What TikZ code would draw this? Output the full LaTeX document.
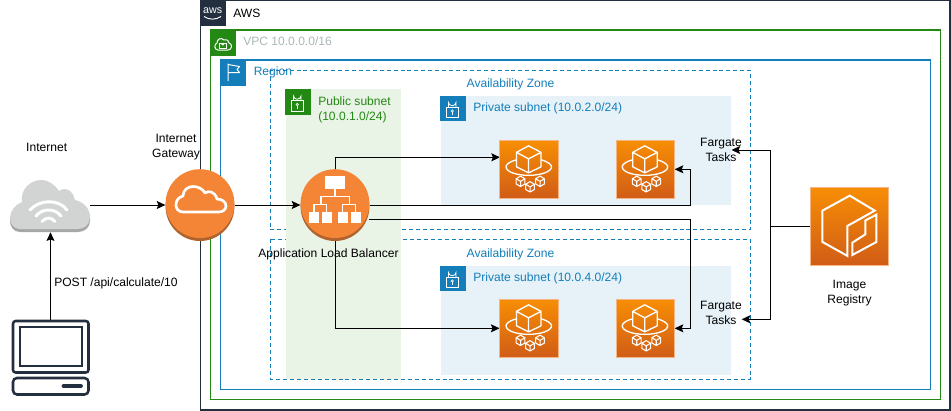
\documentclass[tikz,border=0pt]{standalone}
\usepackage{fontspec}
\setmainfont{Liberation Sans}
\usetikzlibrary{arrows.meta}
\definecolor{awsdark}{HTML}{232F3E}
\definecolor{vpcgreen}{HTML}{248814}
\definecolor{regblue}{HTML}{147EBA}
\definecolor{pubfill}{HTML}{E9F3E6}
\definecolor{privfill}{HTML}{E6F2F8}
\definecolor{vpcgray}{HTML}{AAB7B8}
\definecolor{orangetop}{HTML}{F78E04}
\definecolor{orangebot}{HTML}{D05C17}
\definecolor{orangeedge}{HTML}{F5B585}
\definecolor{circorange}{HTML}{F58536}
\definecolor{circshadow}{HTML}{B0642D}
\definecolor{cloudgray}{HTML}{D2D3D3}
\definecolor{cloudshadow}{HTML}{A5A6A6}
\newcommand{\fgcube}[2]{%
  \draw[white,line width=.8pt,line join=round,shift={(#1,#2)}]
    (0,-5.2) -- (4.4,-2.6) -- (4.4,2.6) -- (0,5.2) -- (-4.4,2.6) -- (-4.4,-2.6) -- cycle
    (-4.4,-2.6) -- (0,0) -- (4.4,-2.6) (0,0) -- (0,5.2);}
\tikzset{
  txt/.style={inner sep=0pt,font=\fontsize{9.05}{11.25}\selectfont,align=center},
  txtl/.style={txt,anchor=west,align=left},
  frame/.style={draw=#1,line width=.85pt,fill=none},
  zone/.style={draw=regblue,line width=.75pt,dash pattern=on 3pt off 2.2pt},
  conn/.style={draw=black,line width=.75pt},
  arr/.style={conn,-{Stealth[length=6.5pt,width=6pt,inset=1.2pt]}},
  orangebox/.style={draw=orangeedge,line width=.6pt,top color=orangetop,bottom color=orangebot,inner sep=0pt,minimum size=#1},
  hit/.style={inner sep=0pt,minimum width=#1,minimum height=54pt},
  hdr/.style={fill=#1,draw=none},
  lockicon/.pic={
    \draw[white,line width=.6pt] (6,11.5) rectangle (18.5,22);
    \draw[white,line width=.6pt] (8.5,11.5) -- (8.5,7) arc[start angle=180,end angle=0,x radius=3.75,y radius=3.2] -- (16,11.5);
    \draw[white,line width=.5pt] (12.2,15.5) circle[radius=1.2];
    \draw[white,line width=.5pt] (12.2,16.7) -- (12.2,19.5);
  },
  fargateicon/.pic={
    \draw[white,line width=1pt,line join=round] (29,6) -- (41.5,12.5) -- (41.5,27) -- (29,33) -- (17,27) -- (17,12.5) -- cycle
      (17,12.5) -- (29,19) -- (41.5,12.5) (29,19) -- (29,33);
    \draw[white,line width=1pt] (17,20) .. controls (9,22) and (6.5,25) .. (6.5,27) .. controls (6.5,32) and (17,35.5) .. (29,35.5) .. controls (41,35.5) and (52,32) .. (52,27) .. controls (52,25) and (49,22) .. (41.5,20);
    \fgcube{21}{41.5}
    \fgcube{40.5}{41.5}
    \fgcube{30.5}{47}
  },
  registryicon/.pic={
    \draw[white,line width=1.5pt,line join=miter] (65,23.7) -- (40,8.7) -- (12.7,23.7) -- (12.7,55) -- (37.7,69) -- (37.7,39) -- cycle;
    \draw[white,line width=1.5pt,line join=miter] (66.7,27.7) -- (66.7,55) -- (42.7,68) -- (42.7,55.7) -- (55.7,47.3) -- (55.7,33.5) -- cycle;
  }
}
\begin{document}
\begin{tikzpicture}[x=.75pt,y=-.75pt]
\useasboundingbox (0,0) rectangle (951,411);
\fill[white] (0,0) rectangle (951,411);
% frames
\draw[frame=awsdark] (200.5,.5) rectangle (950,410);
\draw[frame=vpcgreen] (210.5,30) rectangle (940.5,399.5);
\draw[frame=regblue] (220.5,60) rectangle (930.5,389.5);
\draw[zone] (270.5,70) rectangle (750,229.5);
\draw[zone] (270.5,239) rectangle (750,379);
% subnets
\fill[pubfill] (285.5,89) rectangle (400.5,379);
\fill[privfill] (440.5,95.5) rectangle (730.5,205);
\fill[privfill] (440.5,265.5) rectangle (730.5,375);
% header icons
\fill[hdr=awsdark] (200,0) rectangle (225.5,25.5);
\node[inner sep=0pt,text=white,font=\fontsize{8}{8}\selectfont] (awslogo) at (212.7,10.5) {aws};
\draw[white,line width=.7pt] (204,16.5) .. controls (209,20) and (216,20) .. (221,16.5);
\fill[hdr=vpcgreen] (210,30) rectangle (235.5,55.5);
\draw[white,line width=.75pt,line join=round] (218,50) .. controls (214,50) and (214,44) .. (217,43) .. controls (217,39) and (221,37) .. (224,40) .. controls (227,39) and (229,41) .. (229,43) .. controls (233,44) and (232,50) .. (228,50) -- cycle;
\draw[white,line width=.6pt] (219.8,43.5) rectangle (226,48);
\draw[white,line width=.6pt] (221.3,43.5) arc[start angle=180,end angle=0,radius=1.6];
\fill[hdr=regblue] (220,60) rectangle (245.5,85.5);
\draw[white,line width=.75pt,line join=round] (228,81) -- (228,63.5) (228,64.5) -- (239.5,66.5) -- (237,69.5) -- (239.5,72.5) -- (228,72.5);
\fill[hdr=vpcgreen] (285,89) rectangle (310.5,114.5);
\pic at (285,89) {lockicon};
\fill[hdr=regblue] (440,95.5) rectangle (465.5,121);
\pic at (440,95.5) {lockicon};
\fill[hdr=regblue] (440,265.5) rectangle (465.5,291);
\pic at (440,265.5) {lockicon};
% internet cloud
\node[inner sep=0pt,minimum width=59.25pt,minimum height=40.5pt] (inet) at (50.5,205) {};
\fill[cloudshadow] (20,232) .. controls (14,232) and (10,227) .. (10,221) -- (10,218) -- (90,217) -- (90,221) .. controls (90,227) and (85,232) .. (78,232) -- cycle;
\fill[cloudgray] (20,229) .. controls (14,229) and (10,224) .. (10,218) .. controls (10,211) and (15,205) .. (22,202) .. controls (20,190) and (30,180) .. (41,180) .. controls (49,180) and (55,185) .. (59,191) .. controls (62,188) and (72,187) .. (75,200) .. controls (84,202) and (90,209) .. (90,217) .. controls (90,224) and (85,229) .. (78,229) -- cycle;
\draw[white,line width=2.2pt,line cap=round] (30,210) .. controls (40,199) and (59,199) .. (67,210);
\draw[white,line width=2.2pt,line cap=round] (36,216) .. controls (42,208) and (55,208) .. (61,216);
\draw[white,line width=2.2pt,line cap=round] (42,221.5) .. controls (46,217) and (51,217) .. (55,221.5);
% laptop
\node[inner sep=0pt,minimum width=58pt,minimum height=56.5pt] (laptop) at (50.5,358) {};
\draw[awsdark,line width=1.9pt,rounded corners=2pt] (13,321) rectangle (88.5,372.5);
\draw[awsdark,line width=1.5pt] (19.5,327) rectangle (82,366);
\draw[awsdark,line width=1.9pt,rounded corners=3pt] (13,378) rectangle (88.5,394.5);
\draw[awsdark,line width=3.6pt,line cap=round] (64,386) -- (80.5,386);
% connectors
\coordinate (alb2) at (369,219.3);
\coordinate (regjoin) at (770.5,226.4);
\coordinate (ft1tip) at (731.5,150);
\coordinate (ft2tip) at (741.7,319.3);
\coordinate (aright) at (690.3,205);
\coordinate (f1in) at (500,157.3);
\node[inner sep=0pt,minimum size=43.8pt] (f1) at (529,169.3) {};
\node[inner sep=0pt,minimum size=43.8pt] (f2) at (645.2,169.3) {};
\node[inner sep=0pt,minimum size=43.8pt] (f3) at (529,328.3) {};
\node[inner sep=0pt,minimum size=43.8pt] (f4) at (645.2,328.3) {};
\node[inner sep=0pt,minimum size=58.8pt] (reg) at (849.2,226.4) {};
\node[hit=51.5pt] (igw) at (200,205) {};
\node[hit=51.5pt] (alb) at (335,205) {};
\draw[arr] (inet.east) -- (igw.west);
\draw[arr] (igw.east) -- (alb.west);
\draw[arr] (laptop.north) -- (inet.south);
\draw[arr] (alb.north) |- (f1in);
\draw[arr] (alb.south) |- (f3.west);
\draw[arr] (alb.east) -- (aright) |- (f2.east);
\draw[arr] (alb2) -| (aright |- f4.east) -- (f4.east);
\draw[conn] (reg.west) -- (regjoin);
\draw[arr] (regjoin) |- (ft1tip);
\draw[arr] (regjoin) |- (ft2tip);
% orange boxes
\foreach \n in {f1,f2,f3,f4}{
  \node[orangebox=43.8pt] at (\n) {};
  \pic at (\n.north west) {fargateicon};
}
\node[orangebox=58.8pt] at (reg) {};
\pic at (reg.north west) {registryicon};
% IGW
\fill[circshadow] (200,206.6) circle[radius=34.4];
\fill[circorange] (200,203.6) circle[radius=34.4];
\draw[white,line width=2pt,line join=round] (183,212) .. controls (178,212) and (176,208) .. (176,205) .. controls (176,200) and (179,197) .. (183,196) .. controls (183,190) and (188,186.5) .. (193,186.5) .. controls (198,186.5) and (203,189) .. (205,193) .. controls (208,190.5) and (215,191) .. (217,199) .. controls (222,199) and (226,202) .. (226,206) .. controls (226,210) and (222,212) .. (219,212) -- cycle;
% ALB
\fill[circshadow] (335,206.6) circle[radius=34.4];
\fill[circorange] (335,203.6) circle[radius=34.4];
\draw[white,line width=1pt] (335,189) -- (335,196.7) (321,204.3) -- (321,196.7) -- (349.5,196.7) -- (349.5,204.3)
  (314,212.5) -- (314,204.3) -- (326.7,204.3) -- (326.7,212.5) (342.7,212.5) -- (342.7,204.3) -- (355.7,204.3) -- (355.7,212.5);
\fill[white] (325,176) rectangle (345,189);
\foreach \xa in {309,321.7,337.7,350.7}{\fill[white] (\xa,212.3) rectangle ++(10,10.5);}
% labels
\node[txtl] (lbaws) at (233,13) {AWS};
\node[txtl,text=vpcgray] (lbvpc) at (243,41.5) {VPC 10.0.0.0/16};
\node[txtl,text=regblue] (lbreg) at (253.5,72.5) {Region};
\node[txtl,text=vpcgreen] (lbpub) at (318,109.5) {Public subnet\\(10.0.1.0/24)};
\node[txt,text=regblue] (lbaz1) at (510.5,84) {Availability Zone};
\node[txt,text=regblue] (lbaz2) at (510.5,254) {Availability Zone};
\node[txtl,text=regblue] (lbp1) at (473,108) {Private subnet (10.0.2.0/24)};
\node[txtl,text=regblue] (lbp2) at (473,278) {Private subnet (10.0.4.0/24)};
\node[txt] (lbin) at (46.7,147.5) {Internet};
\node[txt] (lbgw) at (176,147.5) {Internet\\Gateway};
\node[txtl] (lbpost) at (54,283) {POST /api/calculate/10};
\node[txt] (lbalb) at (328.5,254) {Application Load Balancer};
\node[txt] (lbft1) at (721,149.5) {Fargate\\Tasks};
\node[txt] (lbft2) at (721,313) {Fargate\\Tasks};
\node[txt] (lbimg) at (849.5,293.5) {Image\\Registry};
\end{tikzpicture}
\end{document}
